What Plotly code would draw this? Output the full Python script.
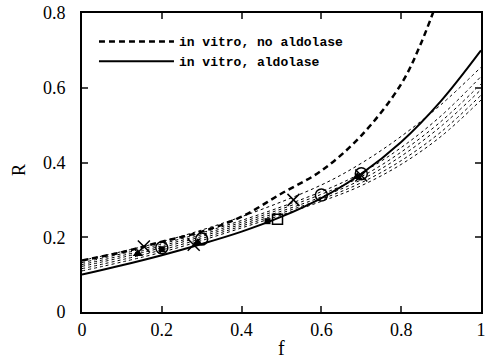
import plotly.graph_objects as go

# ---- data ----
f_grid = [0.0, 0.1, 0.2, 0.3, 0.4, 0.5, 0.6, 0.7, 0.8, 0.9, 1.0]
R_aldolase = [0.100, 0.125, 0.152, 0.182, 0.215, 0.255, 0.305, 0.370, 0.455, 0.565, 0.700]

f_no_aldolase = [0.0, 0.1, 0.2, 0.3, 0.4, 0.5, 0.6, 0.7, 0.8, 0.85, 0.9]
R_no_aldolase = [0.138, 0.160, 0.188, 0.215, 0.255, 0.317, 0.378, 0.472, 0.610, 0.720, 0.860]

dotted_f = [0.0, 0.2, 0.4, 0.6, 0.7, 0.8, 0.9, 1.0]
dotted_1 = [0.138, 0.188, 0.255, 0.340, 0.398, 0.470, 0.555, 0.655]
dotted_2 = [0.132, 0.182, 0.245, 0.322, 0.372, 0.440, 0.525, 0.630]
dotted_3 = [0.127, 0.177, 0.240, 0.315, 0.362, 0.428, 0.510, 0.610]
dotted_4 = [0.122, 0.172, 0.235, 0.308, 0.354, 0.417, 0.497, 0.595]
dotted_5 = [0.116, 0.166, 0.230, 0.302, 0.346, 0.405, 0.482, 0.580]
dotted_6 = [0.110, 0.160, 0.225, 0.296, 0.338, 0.395, 0.470, 0.567]

x_pts_f = [0.155, 0.28, 0.53, 0.70]
x_pts_R = [0.175, 0.18, 0.30, 0.365]
circ_f = [0.20, 0.30, 0.60, 0.70]
circ_R = [0.172, 0.195, 0.313, 0.37]
tri_f = [0.14, 0.29, 0.69]
tri_R = [0.156, 0.185, 0.362]
sq_f = [0.49]
sq_R = [0.248]
fsq_f = [0.465, 0.20]
fsq_R = [0.243, 0.168]

x_ticks = [0, 0.2, 0.4, 0.6, 0.8, 1]
x_ticklabels = ["0", "0.2", "0.4", "0.6", "0.8", "1"]
y_ticks = [0, 0.2, 0.4, 0.6, 0.8]
y_ticklabels = ["0", "0.2", "0.4", "0.6", "0.8"]

fig = go.Figure()

for c in [dotted_1, dotted_2, dotted_3, dotted_4, dotted_5, dotted_6]:
    fig.add_trace(go.Scatter(x=dotted_f, y=c, mode="lines", showlegend=False,
                             line=dict(color="black", width=1, dash="dot", shape="spline")))

fig.add_trace(go.Scatter(x=f_no_aldolase, y=R_no_aldolase, mode="lines",
                         name="in vitro, no aldolase",
                         line=dict(color="black", width=2.5, dash="6px,4px", shape="spline")))
fig.add_trace(go.Scatter(x=f_grid, y=R_aldolase, mode="lines",
                         name="in vitro, aldolase",
                         line=dict(color="black", width=2, shape="spline")))

fig.add_trace(go.Scatter(x=x_pts_f, y=x_pts_R, mode="markers", showlegend=False,
                         marker=dict(symbol="x-thin-open", size=12, color="black",
                                     line=dict(color="black", width=1.5))))
fig.add_trace(go.Scatter(x=circ_f, y=circ_R, mode="markers", showlegend=False,
                         marker=dict(symbol="circle-open", size=12, color="black", line=dict(width=1.5))))
fig.add_trace(go.Scatter(x=tri_f, y=tri_R, mode="markers", showlegend=False,
                         marker=dict(symbol="triangle-up", size=9, color="black")))
fig.add_trace(go.Scatter(x=sq_f, y=sq_R, mode="markers", showlegend=False,
                         marker=dict(symbol="square-open", size=10, color="black", line=dict(width=1.5))))
fig.add_trace(go.Scatter(x=fsq_f, y=fsq_R, mode="markers", showlegend=False,
                         marker=dict(symbol="square", size=6, color="black")))

serif = "Liberation Serif"

fig.update_layout(
    width=489, height=359,
    margin=dict(l=82, r=3, t=13, b=47),
    plot_bgcolor="white", paper_bgcolor="white",
    font=dict(family=serif, size=18, color="black"),
    legend=dict(x=0.03, y=0.955, xanchor="left", yanchor="top",
                bgcolor="rgba(0,0,0,0)", itemwidth=75, tracegroupgap=0,
                font=dict(family="Liberation Mono", size=13, weight="bold")),
    xaxis=dict(range=[0, 1.0], tickvals=x_ticks, ticktext=x_ticklabels,
               ticks="inside", ticklen=6, tickwidth=1.5, showgrid=False, zeroline=False,
               showline=True, linecolor="black", linewidth=2, mirror="ticks",
               ticklabelstandoff=0, tickfont=dict(family=serif, size=18)),
    yaxis=dict(range=[0, 0.8], tickvals=y_ticks, ticktext=y_ticklabels,
               ticks="inside", ticklen=6, tickwidth=1.5, showgrid=False, zeroline=False,
               showline=True, linecolor="black", linewidth=2, mirror="ticks",
               ticklabelstandoff=11, tickfont=dict(family=serif, size=18)),
    annotations=[
        dict(text="f", xref="paper", yref="paper", x=0.5, y=-0.12, showarrow=False,
             xanchor="center", yanchor="middle", font=dict(family=serif, size=20)),
        dict(text="R", xref="paper", yref="paper", x=-0.158, y=0.475, showarrow=False,
             textangle=-90, xanchor="center", yanchor="middle", font=dict(family=serif, size=18)),
    ],
)

fig.write_html("out.html")
